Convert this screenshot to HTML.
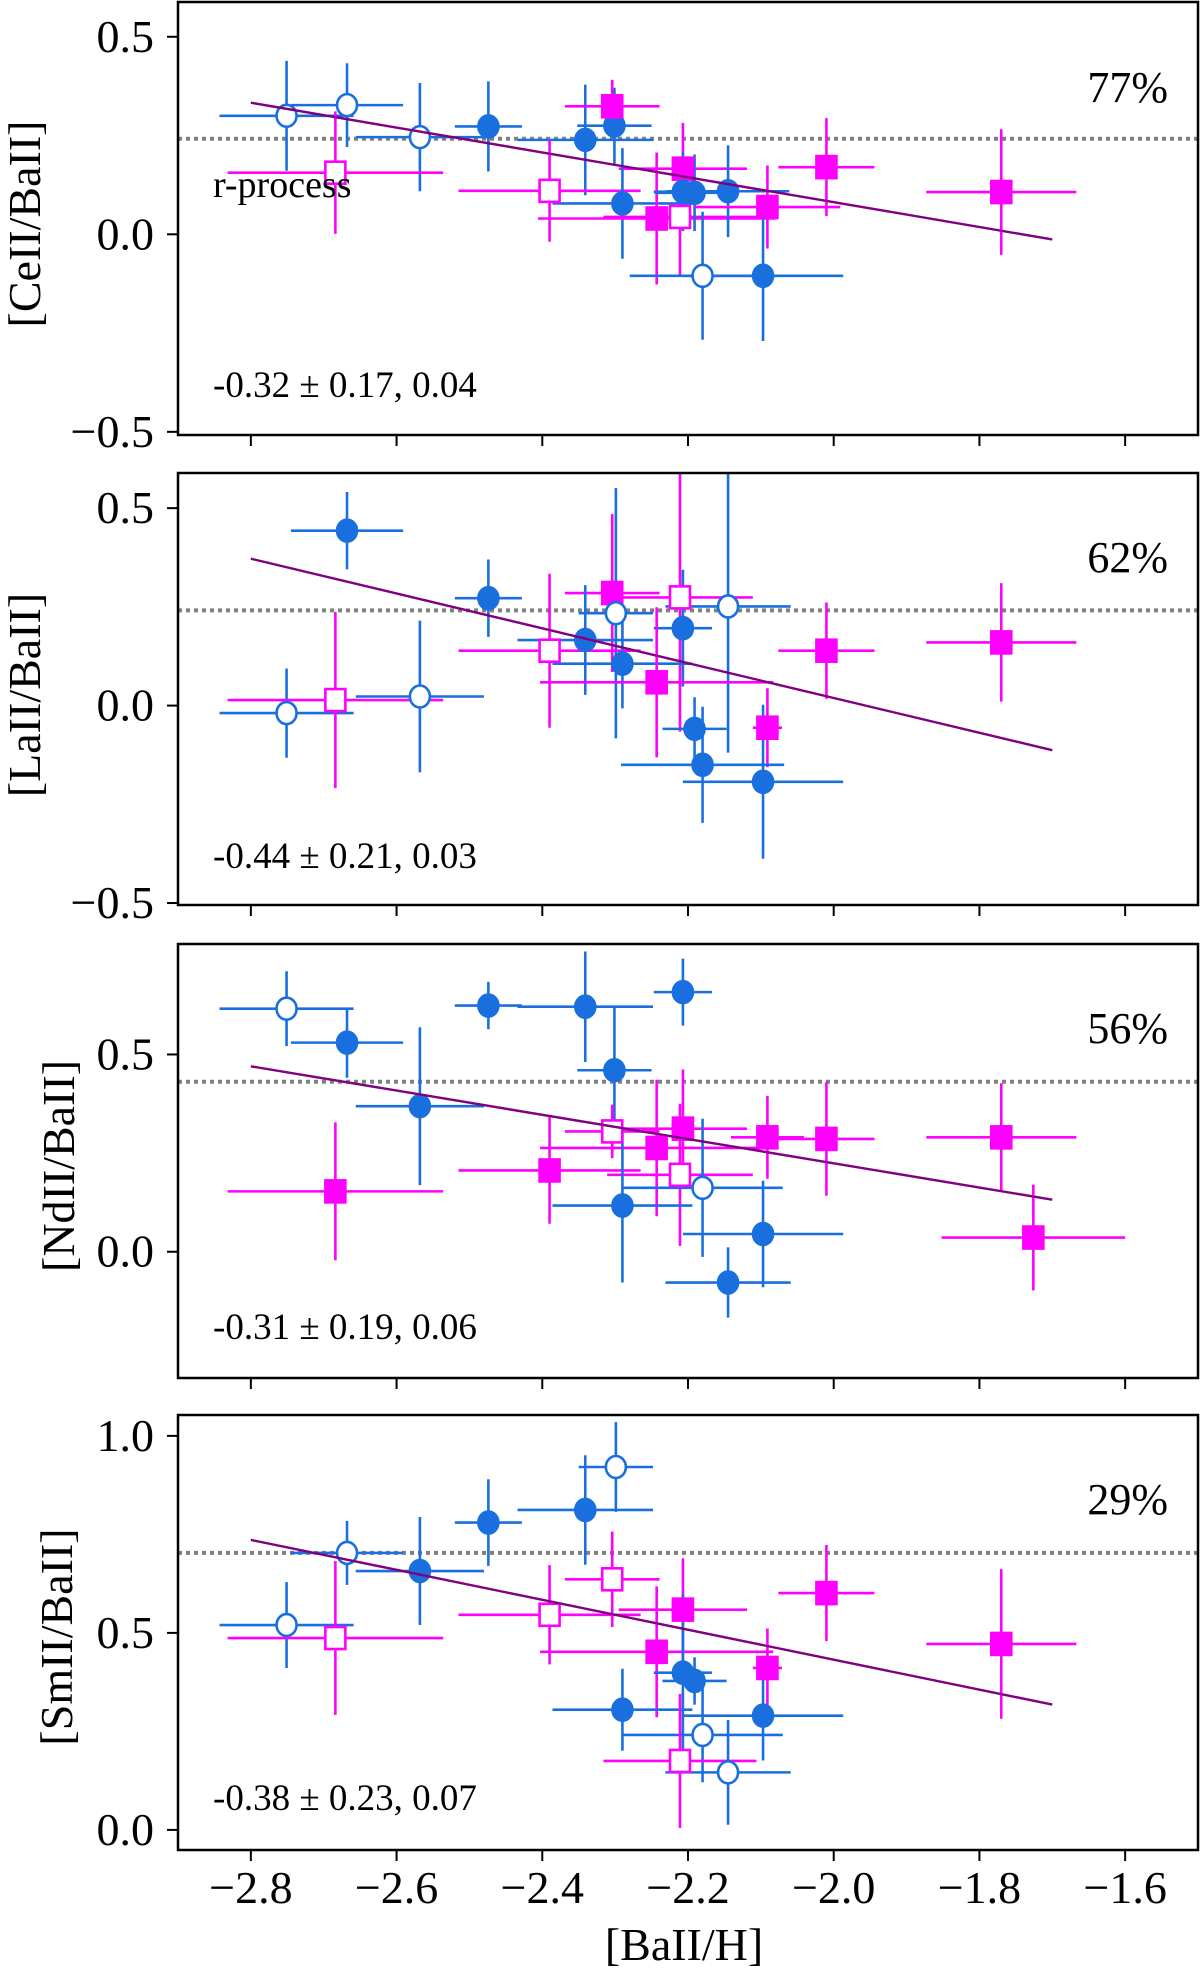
<!DOCTYPE html>
<html><head><meta charset="utf-8"><style>
html,body{margin:0;padding:0;background:#fff;}
svg{display:block;}
text{font-family:"Liberation Serif",serif;fill:#000;}
</style></head><body>
<svg id="fig" width="1200" height="1974" viewBox="0 0 1200 1974" xmlns="http://www.w3.org/2000/svg"></svg>
<script>
// shared x data
const xTicks = [-2.8,-2.6,-2.4,-2.2,-2.0,-1.8,-1.6];
const xTickLabels = ["−2.8","−2.6","−2.4","−2.2","−2.0","−1.8","−1.6"];
const fitX = [-2.8,-1.7];

// Panel 1: [CeII/BaII]
const ceX  = [-2.751,-2.668,-2.568,-2.474,-2.341,-2.301,-2.304,-2.684,-2.390,-2.207,-2.290,-2.243,-2.211,-2.191,-2.207,-2.145,-2.091,-2.010,-1.770,-2.180,-2.097];
const ceY  = [0.30,0.327,0.246,0.273,0.239,0.275,0.324,0.156,0.11,0.166,0.078,0.04,0.044,0.105,0.108,0.109,0.069,0.17,0.107,-0.105,-0.105];
const ceXe = [0.092,0.077,0.088,0.046,0.093,0.051,0.065,0.148,0.125,0.088,0.096,0.163,0.105,0.055,0.04,0.084,0.1,0.066,0.103,0.1,0.11];
const ceYe = [0.139,0.106,0.137,0.114,0.14,0.096,0.067,0.155,0.129,0.116,0.14,0.167,0.148,0.097,0.1,0.116,0.105,0.124,0.159,0.162,0.165];
const ceT  = ["bo","bo","bo","bf","bf","bf","mf","mo","mo","mf","bf","mf","mo","bf","bf","bf","mf","mf","mf","bo","bf"];
const ceFit = [0.333,-0.013];

// Panel 2: [LaII/BaII]
const laX  = [-2.668,-2.751,-2.684,-2.568,-2.474,-2.304,-2.211,-2.299,-2.145,-2.207,-2.341,-2.390,-2.290,-2.010,-1.770,-2.243,-2.091,-2.191,-2.180,-2.097];
const laY  = [0.443,-0.019,0.014,0.023,0.272,0.285,0.274,0.234,0.251,0.196,0.166,0.139,0.106,0.139,0.16,0.059,-0.056,-0.059,-0.15,-0.193];
const laXe = [0.077,0.092,0.148,0.088,0.046,0.065,0.1,0.051,0.086,0.04,0.093,0.125,0.096,0.066,0.103,0.16,0.02,0.044,0.112,0.11];
const laYe = [0.098,0.113,0.223,0.192,0.098,0.2,0.34,0.317,0.37,0.148,0.139,0.195,0.113,0.122,0.15,0.19,0.1,0.08,0.147,0.195];
const laT  = ["bf","bo","mo","bo","bf","mf","mo","bo","bo","bf","bf","mo","bf","mf","mf","mf","mf","bf","bf","bf"];
const laFit = [0.372,-0.113];

// Panel 3: [NdII/BaII]
const ndX  = [-2.751,-2.668,-2.474,-2.341,-2.207,-2.568,-2.301,-2.684,-2.390,-2.304,-2.243,-2.207,-2.211,-2.091,-2.010,-1.770,-1.726,-2.180,-2.290,-2.097,-2.145];
const ndY  = [0.616,0.53,0.624,0.621,0.658,0.369,0.46,0.153,0.206,0.305,0.263,0.312,0.195,0.29,0.286,0.29,0.036,0.162,0.117,0.045,-0.078];
const ndXe = [0.092,0.077,0.046,0.093,0.04,0.088,0.051,0.148,0.125,0.065,0.16,0.088,0.1,0.05,0.066,0.103,0.126,0.11,0.096,0.11,0.086];
const ndYe = [0.095,0.089,0.06,0.14,0.085,0.2,0.158,0.175,0.135,0.068,0.173,0.15,0.18,0.105,0.144,0.137,0.134,0.175,0.195,0.135,0.089];
const ndT  = ["bo","bf","bf","bf","bf","bf","bf","mf","mf","mo","mf","mf","mo","mf","mf","mf","mf","bo","bf","bf","bf"];
const ndFit = [0.47,0.132];

// Panel 4: [SmII/BaII]
const smX  = [-2.299,-2.341,-2.474,-2.668,-2.568,-2.304,-2.390,-2.751,-2.684,-2.207,-2.010,-2.243,-1.770,-2.091,-2.207,-2.191,-2.290,-2.097,-2.180,-2.211,-2.145];
const smY  = [0.921,0.812,0.78,0.703,0.657,0.636,0.546,0.52,0.487,0.559,0.601,0.452,0.472,0.411,0.399,0.378,0.305,0.29,0.241,0.175,0.146];
const smXe = [0.051,0.093,0.046,0.077,0.088,0.065,0.125,0.092,0.148,0.088,0.066,0.16,0.103,0.02,0.04,0.044,0.096,0.11,0.11,0.105,0.086];
const smYe = [0.114,0.139,0.11,0.081,0.137,0.121,0.126,0.109,0.195,0.13,0.122,0.166,0.19,0.1,0.2,0.06,0.104,0.114,0.12,0.17,0.133];
const smT  = ["bo","bf","bf","bo","bf","mo","mo","bo","mo","mf","mf","mf","mf","mf","bf","bf","bf","bf","bo","mo","bo"];
const smFit = [0.736,0.318];

const rRef = [0.242,0.241,0.431,0.703];
const yTickVals = [[0.5,0,-0.5],[0.5,0,-0.5],[0.5,0],[1.0,0.5,0]];
const yTickLabels = [["0.5","0.0","−0.5"],["0.5","0.0","−0.5"],["0.5","0.0"],["1.0","0.5","0.0"]];
const yLabels = ["[CeII/BaII]","[LaII/BaII]","[NdII/BaII]","[SmII/BaII]"];
const pctLabels = ["77%","62%","56%","29%"];
const fitLabels = ["-0.32 ± 0.17, 0.04","-0.44 ± 0.21, 0.03","-0.31 ± 0.19, 0.06","-0.38 ± 0.23, 0.07"];

const NS="http://www.w3.org/2000/svg";
const svg=document.getElementById('fig');
const L=178,R=1198,XMIN=-2.9,XMAX=-1.5;
const panels=[
 {top:2,bot:435,ymin:-0.508,ymax:0.588,lx:25,ly:224,pb:102,ab:397,key:"ce",d:[ceX,ceY,ceXe,ceYe,ceT,ceFit]},
 {top:473,bot:905,ymin:-0.505,ymax:0.589,lx:25,ly:695,pb:572,ab:868,key:"la",d:[laX,laY,laXe,laYe,laT,laFit]},
 {top:944,bot:1378,ymin:-0.32,ymax:0.78,lx:59,ly:1166,pb:1043,ab:1339,key:"nd",d:[ndX,ndY,ndXe,ndYe,ndT,ndFit]},
 {top:1415,bot:1850,ymin:-0.051,ymax:1.053,lx:57,ly:1637,pb:1514,ab:1810,key:"sm",d:[smX,smY,smXe,smYe,smT,smFit]}
];
function xs(v){return L+(v-XMIN)/(XMAX-XMIN)*(R-L);}
function mk(tag,attrs,parent){const e=document.createElementNS(NS,tag);for(const k in attrs)e.setAttribute(k,attrs[k]);(parent||svg).appendChild(e);return e;}
const BLUE="#1a6fdf",MAG="#ff00ff";

panels.forEach((p,i)=>{
  const ys=v=>p.bot-(v-p.ymin)/(p.ymax-p.ymin)*(p.bot-p.top);
  const g=mk('g',{});
  
  
  const clipId='clip'+i;
  const cp=mk('clipPath',{id:clipId},g);
  mk('rect',{x:L,y:p.top,width:R-L,height:p.bot-p.top},cp);
  const dl=mk('line',{x1:L,x2:R,y1:ys(rRef[i]),y2:ys(rRef[i]),stroke:"#808080","stroke-width":4,"stroke-dasharray":"4 4"},g);
  
  
  const [X,Y,XE,YE,T,F]=p.d;
  const pg=mk('g',{"clip-path":"url(#"+clipId+")"},g);
  X.forEach((x,j)=>{
    const c=T[j][0]==='b'?BLUE:MAG;
    const eb=mk('g',{stroke:c,"stroke-width":2.6},pg);
    
    
    mk('line',{x1:xs(x-XE[j]),x2:xs(x+XE[j]),y1:ys(Y[j]),y2:ys(Y[j])},eb);
    mk('line',{x1:xs(x),x2:xs(x),y1:ys(Y[j]-YE[j]),y2:ys(Y[j]+YE[j])},eb);
  });
  X.forEach((x,j)=>{
    const t=T[j],cx=xs(x),cy=ys(Y[j]);
    let m;
    if(t[0]==='b'){
      m=mk('ellipse',{cx:cx,cy:cy,rx:10,ry:11,fill:t[1]==='f'?BLUE:"#fff",stroke:BLUE,"stroke-width":2.6},pg);
    }else{
      m=mk('rect',{x:cx-10,y:cy-11,width:20,height:22,fill:t[1]==='f'?MAG:"#fff",stroke:MAG,"stroke-width":2.6},pg);
    }
    
    
  });
  const fl=mk('line',{x1:xs(fitX[0]),x2:xs(fitX[1]),y1:ys(F[0]),y2:ys(F[1]),stroke:"#800080","stroke-width":2.4},g);
  
  
  const fr=mk('rect',{x:L,y:p.top,width:R-L,height:p.bot-p.top,fill:"none",stroke:"#000","stroke-width":2.5},g);
  
  
  xTicks.forEach((v,k)=>{
    mk('line',{x1:xs(v),x2:xs(v),y1:p.bot,y2:p.bot+11,stroke:"#000","stroke-width":2},g);
    if(i===3){
      const t=mk('text',{x:xs(v),y:1903,"text-anchor":"middle","font-size":46},g);
      t.textContent=xTickLabels[k];
      
      
    }
  });
  yTickVals[i].forEach((v,k)=>{
    mk('line',{x1:L-11,x2:L,y1:ys(v),y2:ys(v),stroke:"#000","stroke-width":2},g);
    const t=mk('text',{x:154,y:ys(v)+15,"text-anchor":"end","font-size":46},g);
    t.textContent=yTickLabels[i][k];
    
    
  });
  const yl=mk('text',{x:0,y:0,"text-anchor":"middle","font-size":46,transform:`translate(${p.lx+15},${p.ly}) rotate(-90)`},g);
  yl.textContent=yLabels[i];
  
  
  const pc=mk('text',{x:1168,y:p.pb,"text-anchor":"end","font-size":44},g);
  pc.textContent=pctLabels[i];
  
  
  const an=mk('text',{x:213,y:p.ab,"font-size":37},g);
  an.textContent=fitLabels[i];
  
  
  if(i===0){
    const rp=mk('text',{x:213,y:197,"font-size":38},g);
    rp.textContent="r-process";
    
    
  }
});
const xl=mk('text',{x:684,y:1960,"text-anchor":"middle","font-size":46});
xl.textContent="[BaII/H]";


</script>
</body></html>
